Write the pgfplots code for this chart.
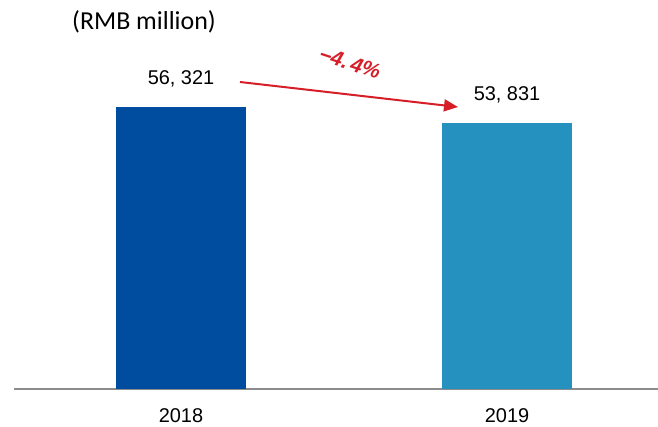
\documentclass[border=0pt]{standalone}
\usepackage{fontspec}
\setmainfont{Liberation Sans}
\newfontfamily\calibri{Carlito}
\usepackage{pgfplots}
\pgfplotsset{compat=1.18}
\usetikzlibrary{arrows.meta}
\definecolor{barA}{RGB}{0,76,158}
\definecolor{barB}{RGB}{37,145,190}
\definecolor{arrred}{RGB}{214,30,40}
\definecolor{axgray}{RGB}{140,140,140}
\begin{document}
\begin{tikzpicture}
\begin{axis}[
  at={(14bp,38bp)}, anchor=south west,
  scale only axis, width=644bp, height=389bp,
  xmin=14, xmax=658, ymin=12400, ymax=72990,
  axis y line=none, axis x line*=bottom,
  x axis line style={axgray, line width=1.5bp, -},
  xtick={181,507}, xticklabels={2018,2019},
  major tick length=0pt, ytick=\empty,
  xticklabel style={font=\fontsize{20}{22}\selectfont, anchor=center, inner sep=1bp, yshift=-27bp},
  nodes near coords={\pgfmathprintnumber[assume math mode=true,fixed,precision=0,1000 sep={,\ }]{\pgfplotspointmeta}},
  every node near coord/.style={anchor=center, yshift=28bp, font=\fontsize{20}{22}\selectfont, text=black},
]
\addplot[ybar, bar shift=0pt, bar width=130bp, fill=barA, draw=none] coordinates {(181,56321)};
\addplot[ybar, bar shift=0pt, bar width=130bp, fill=barB, draw=none] coordinates {(507,53831)};
\end{axis}
\node[font=\calibri\fontsize{26}{30}\selectfont] at (144bp,405bp) {(RMB million)};
\draw[arrred, line width=2bp, -{Triangle[length=14bp,width=12bp]}] (240bp,345bp) -- (458bp,320bp);
\node[text=arrred, font=\bfseries\itshape\fontsize{21}{24}\selectfont, rotate=-18] at (350bp,364bp) {−4.\,4\%};
\pgfresetboundingbox
\useasboundingbox (0,0) rectangle (658bp,427bp);
\end{tikzpicture}
\end{document}
